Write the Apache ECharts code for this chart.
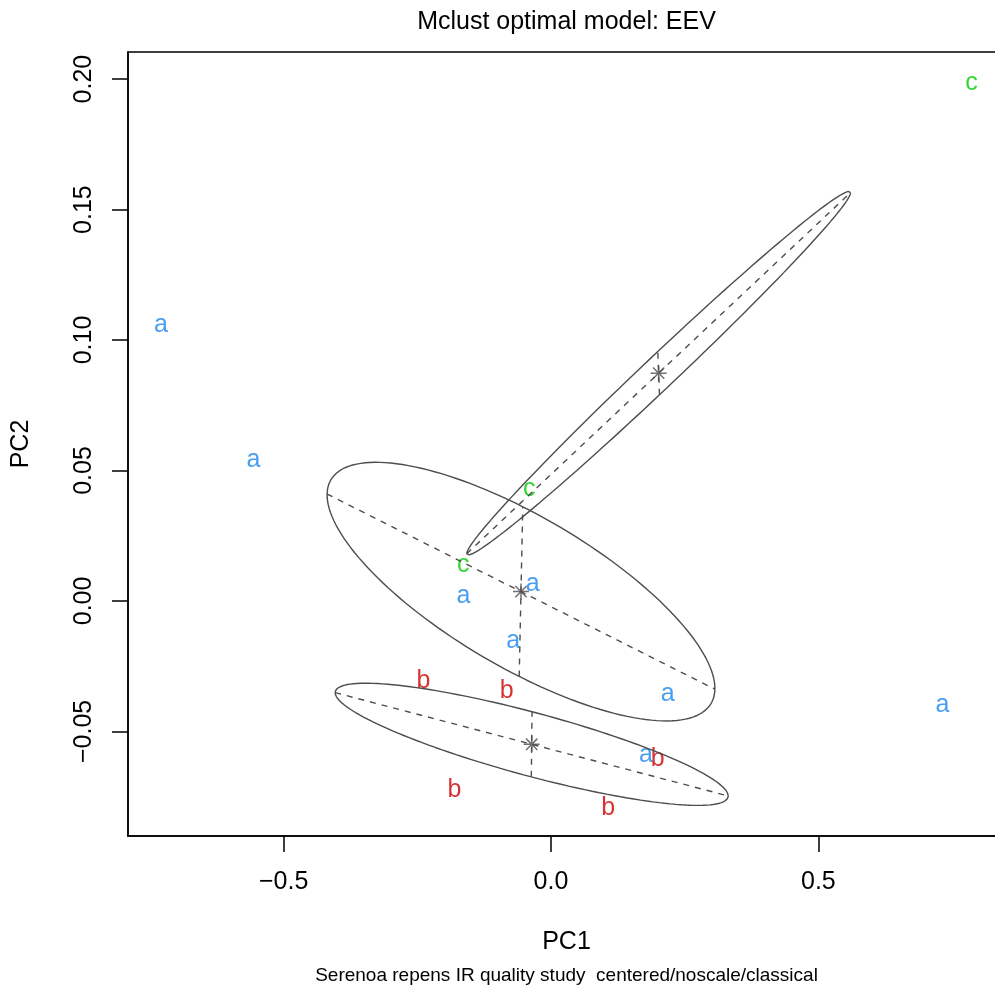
<!DOCTYPE html>
<html>
<head>
<meta charset="utf-8">
<script src="https://cdn.jsdelivr.net/npm/echarts@6/dist/echarts.min.js"></script>
<style>
html,body{margin:0;padding:0;background:#fff;overflow:hidden;}
#chart{width:1006px;height:988px;}
</style>
</head>
<body>
<div id="chart"></div>
<script>
// ---- data ----
const xTicks = [-0.5, 0.0, 0.5];
const yTicks = [-0.05, 0.00, 0.05, 0.10, 0.15, 0.20];

const classA = [[-0.7295, 0.1065], [-0.5564, 0.0547], [-0.1639, 0.0027], [-0.0342, 0.0074],
                [-0.0705, -0.0146], [0.2181, -0.0348], [0.7321, -0.0392], [0.1776, -0.0584]];
const classB = [[-0.2387, -0.0309], [-0.0828, -0.0344], [-0.1807, -0.0727], [0.1071, -0.0795], [0.1994, -0.0606]];
const classC = [[0.7864, 0.1991], [-0.0406, 0.0438], [-0.1639, 0.0145]];

// cluster ellipses: centre, major semi-axis vector, minor semi-axis length (data units)
const ellipseCenters = [[-0.0561, 0.00357], [-0.0361, -0.05495], [0.2013, 0.0873]];
const ellipseMajor   = [[0.3626, -0.0374], [0.3675, -0.0198], [0.3589, 0.0692]];
const ellipseMinor   = [0.0327, 0.0125, 0.00845];

// ---- build ----
const FONT = '"Liberation Sans", Arial, Helvetica, sans-serif';
const GREY = '#4D4D4D';

function ellipseParts(c, m, b) {
  const L = Math.hypot(m[0], m[1]);
  const u = [m[0] / L, m[1] / L];
  const v = [-u[1], u[0]];
  const outline = [];
  const N = 160;
  for (let i = 0; i <= N; i++) {
    const t = 2 * Math.PI * i / N;
    outline.push([c[0] + Math.cos(t) * m[0] + Math.sin(t) * v[0] * b,
                  c[1] + Math.cos(t) * m[1] + Math.sin(t) * v[1] * b]);
  }
  const major = [[c[0] - m[0], c[1] - m[1]], [c[0] + m[0], c[1] + m[1]]];
  const minor = [[c[0] - v[0] * b, c[1] - v[1] * b], [c[0] + v[0] * b, c[1] + v[1] * b]];
  return {outline, major, minor};
}

const series = [];
ellipseCenters.forEach((c, k) => {
  const p = ellipseParts(c, ellipseMajor[k], ellipseMinor[k]);
  series.push({type: 'line', data: p.outline, showSymbol: false, silent: true,
    lineStyle: {color: GREY, width: 1.4}, z: 3});
  series.push({type: 'line', data: p.major, showSymbol: false, silent: true,
    lineStyle: {color: GREY, width: 1.4, type: [6, 6]}, z: 3});
  series.push({type: 'line', data: p.minor, showSymbol: false, silent: true,
    lineStyle: {color: GREY, width: 1.4, type: [6, 6]}, z: 3});
});
series.push({type: 'scatter', data: ellipseCenters,
  symbol: 'path://M0,-1L0,1M-1,0L1,0M-0.7071,-0.7071L0.7071,0.7071M-0.7071,0.7071L0.7071,-0.7071',
  symbolSize: 16,
  itemStyle: {color: 'rgba(0,0,0,0)', borderColor: GREY, borderWidth: 1.5}, z: 4});

function letterSeries(data, letter, color, dy) {
  return {type: 'scatter', data: data, symbolSize: 2,
    itemStyle: {color: 'rgba(0,0,0,0)'},
    label: {show: true, position: 'inside', formatter: letter, color: color,
      fontSize: 25, fontFamily: FONT, offset: [0, dy]}, z: 2};
}
series.push(letterSeries(classA, 'a', '#1C86EE', 2));
series.push(letterSeries(classB, 'b', '#CD0000', 0));
series.push(letterSeries(classC, 'c', '#00CD00', 2));

const axisText = {fontSize: 25, color: '#000', fontFamily: FONT};
const fmt = (d) => (v) => (v < -1e-9 ? '\u2212' : '') + Math.abs(v).toFixed(d);

const option = {
  animation: false,
  backgroundColor: '#fff',
  title: [
    {text: 'Mclust optimal model: EEV', left: 566.5, top: 10, textAlign: 'center', padding: 0,
     textStyle: {fontSize: 25, fontWeight: 'normal', color: '#000', fontFamily: FONT}},
    {text: 'Serenoa repens IR quality study  centered/noscale/classical', left: 566.5, top: 966,
     textAlign: 'center', padding: 0,
     textStyle: {fontSize: 19, fontWeight: 'normal', color: '#000', fontFamily: FONT}}
  ],
  grid: {left: 128, top: 52, right: 1, bottom: 152, show: true,
    borderColor: '#000', borderWidth: 1.5, backgroundColor: 'rgba(0,0,0,0)'},
  xAxis: {type: 'value', min: -0.791, max: 0.849,
    name: 'PC1', nameLocation: 'middle', nameGap: 94, nameTextStyle: axisText,
    splitLine: {show: false},
    axisLine: {show: true, onZero: false, lineStyle: {color: '#000', width: 1.5}},
    axisTick: {show: true, customValues: xTicks, length: 16, lineStyle: {color: '#000', width: 1.5}},
    axisLabel: {customValues: xTicks, margin: 34, formatter: fmt(1), ...axisText}},
  yAxis: {type: 'value', min: -0.0901, max: 0.2104,
    name: 'PC2', nameLocation: 'middle', nameGap: 94, nameTextStyle: axisText,
    splitLine: {show: false},
    axisLine: {show: true, onZero: false, lineStyle: {color: '#000', width: 1.5}},
    axisTick: {show: true, customValues: yTicks, length: 16, lineStyle: {color: '#000', width: 1.5}},
    axisLabel: {customValues: yTicks, margin: 31, rotate: 90, formatter: fmt(2), ...axisText}},
  series: series
};

const chart = echarts.init(document.getElementById('chart'), null, {renderer: 'canvas'});
chart.setOption(option);
</script>
</body>
</html>
